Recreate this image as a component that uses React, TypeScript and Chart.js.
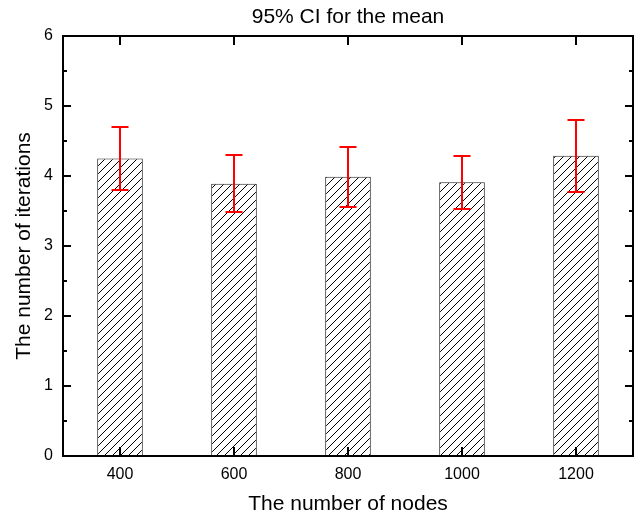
import React, { useEffect, useRef } from "react";
import { Chart, registerables } from "chart.js";

Chart.register(...registerables);

const categories = ["400", "600", "800", "1000", "1200"];
const meanValues = [4.25, 3.89, 3.99, 3.91, 4.29];
const upperValues = [4.70, 4.30, 4.41, 4.28, 4.80];
const lowerValues = [3.80, 3.48, 3.56, 3.53, 3.77];

const FONT = "'Liberation Sans', Arial, sans-serif";

function makeHatch(): CanvasPattern | string {
  const s = 8;
  const c = document.createElement("canvas");
  c.width = s;
  c.height = s;
  const g = c.getContext("2d");
  if (!g) return "#fff";
  g.fillStyle = "#fff";
  g.fillRect(0, 0, s, s);
  g.strokeStyle = "#000";
  g.lineWidth = 1;
  g.beginPath();
  g.moveTo(-1, 1);
  g.lineTo(1, -1);
  g.moveTo(0, s);
  g.lineTo(s, 0);
  g.moveTo(s - 1, s + 1);
  g.lineTo(s + 1, s - 1);
  g.stroke();
  const p = g.createPattern(c, "repeat");
  return p || "#fff";
}

const errorBarPlugin = {
  id: "errorBars",
  afterDatasetsDraw(chart: any) {
    const { ctx, scales } = chart;
    const x = scales.x;
    const y = scales.y;
    ctx.save();
    ctx.strokeStyle = "#ff0000";
    ctx.lineWidth = 2;
    const cap = 8.5;
    categories.forEach((_, i) => {
      const px = Math.round(x.getPixelForValue(i));
      const yt = Math.round(y.getPixelForValue(upperValues[i]));
      const yb = Math.round(y.getPixelForValue(lowerValues[i]));
      ctx.beginPath();
      ctx.moveTo(px, yt);
      ctx.lineTo(px, yb);
      ctx.moveTo(px - cap, yt);
      ctx.lineTo(px + cap, yt);
      ctx.moveTo(px - cap, yb);
      ctx.lineTo(px + cap, yb);
      ctx.stroke();
    });
    ctx.restore();
  },
};

const framePlugin = {
  id: "frameTicks",
  afterDraw(chart: any) {
    const { ctx, chartArea, scales } = chart;
    const { left, right, top, bottom } = chartArea;
    const x = scales.x;
    const y = scales.y;
    ctx.save();
    ctx.strokeStyle = "#000";
    ctx.lineWidth = 2;
    ctx.beginPath();
    ctx.rect(left, top, right - left, bottom - top);
    ctx.stroke();
    ctx.beginPath();
    for (let v = 0; v <= 6; v += 0.5) {
      const py = Math.round(y.getPixelForValue(v));
      const len = Number.isInteger(v) ? 8 : 4;
      ctx.moveTo(left, py);
      ctx.lineTo(left + len, py);
      ctx.moveTo(right, py);
      ctx.lineTo(right - len, py);
    }
    categories.forEach((_, i) => {
      const px = Math.round(x.getPixelForValue(i));
      ctx.moveTo(px, bottom);
      ctx.lineTo(px, bottom - 9);
      ctx.moveTo(px, top);
      ctx.lineTo(px, top + 9);
    });
    ctx.stroke();
    ctx.restore();
  },
};

export default function App() {
  const ref = useRef<HTMLCanvasElement | null>(null);

  useEffect(() => {
    document.body.style.margin = "0";
    const canvas = ref.current;
    if (!canvas) return;
    const hatch = makeHatch();
    const chart = new Chart(canvas, {
      type: "bar",
      data: {
        labels: categories,
        datasets: [
          {
            data: meanValues,
            backgroundColor: hatch as any,
            borderColor: "#222",
            borderWidth: 1,
            barPercentage: 0.4,
            categoryPercentage: 1,
          },
        ],
      },
      options: {
        responsive: false,
        animation: false,
        devicePixelRatio: 1,
        layout: { padding: { top: 0, right: 9, left: 0, bottom: 0 } },
        plugins: {
          legend: { display: false },
          tooltip: { enabled: false },
          title: {
            display: true,
            text: "95% CI for the mean",
            fullSize: false,
            color: "#000",
            font: { family: FONT, size: 21, weight: "normal" },
            padding: { top: 5, bottom: 5.8 },
          },
        },
        scales: {
          x: {
            grid: { display: false, drawTicks: false },
            border: { display: false },
            ticks: {
              color: "#000",
              font: { family: FONT, size: 16 },
              padding: 9,
            },
            title: {
              display: true,
              text: "The number of nodes",
              color: "#000",
              font: { family: FONT, size: 21 },
              padding: { top: 0, bottom: 0 },
            },
            afterFit(scale: any) {
              scale.height = 61;
            },
          },
          y: {
            min: 0,
            max: 6,
            grid: { display: false, drawTicks: false },
            border: { display: false },
            ticks: {
              stepSize: 1,
              color: "#000",
              font: { family: FONT, size: 16 },
              padding: 10,
              callback: (v: any) => String(v),
            },
            title: {
              display: true,
              text: "The number of iterations",
              color: "#000",
              font: { family: FONT, size: 21 },
              padding: { top: 12, bottom: 0 },
            },
            afterFit(scale: any) {
              scale.width = 63;
            },
          },
        },
      },
      plugins: [errorBarPlugin, framePlugin],
    });
    return () => chart.destroy();
  }, []);

  return (
    <div style={{ width: 642, height: 517, background: "#fff" }}>
      <canvas ref={ref} width={642} height={517} style={{ display: "block" }} />
    </div>
  );
}
